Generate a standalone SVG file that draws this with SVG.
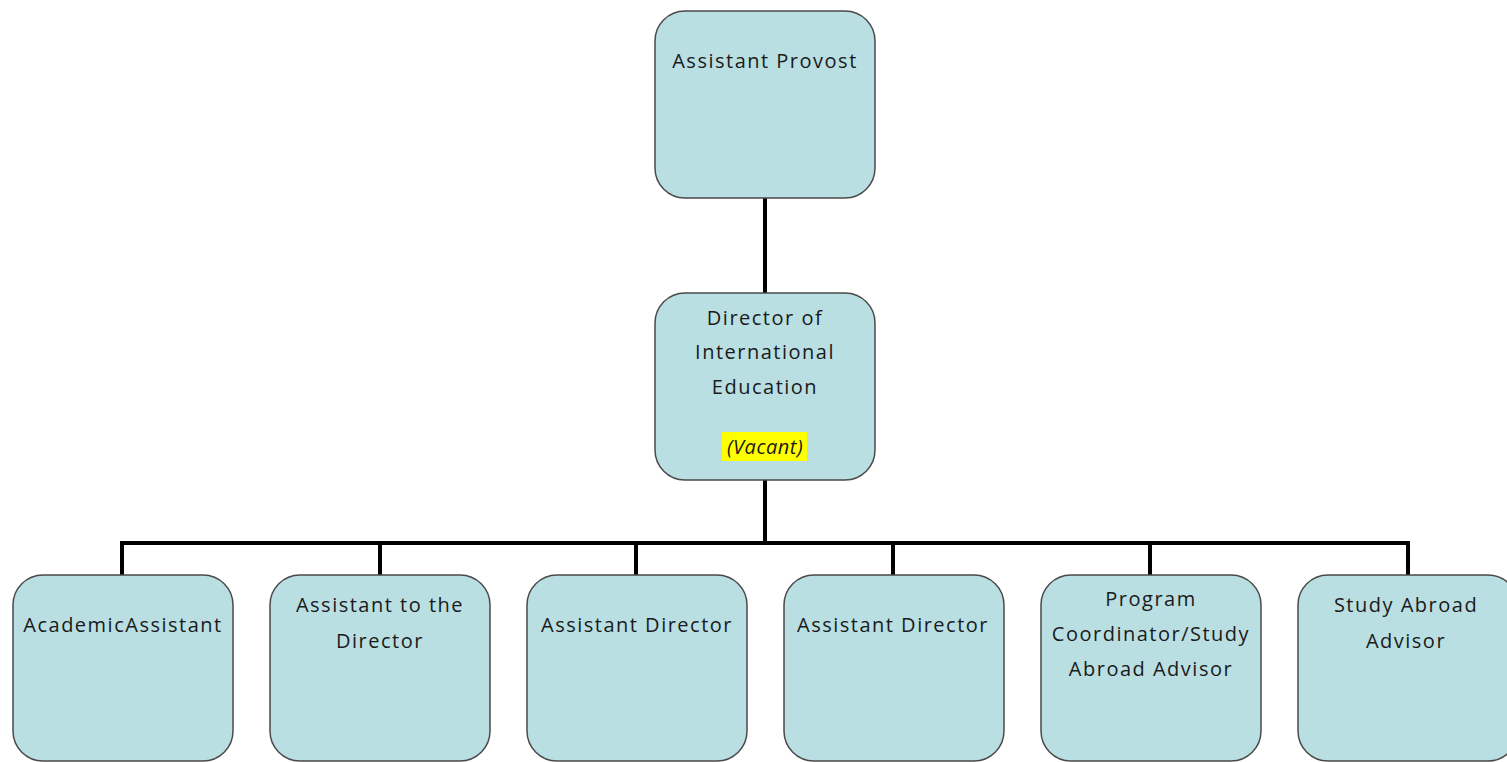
<svg xmlns="http://www.w3.org/2000/svg" width="1507" height="762" viewBox="0 0 1507 762">
<style>
.box{fill:#b9dfe3;stroke:#4a4a4a;stroke-width:1.5}
.t{font-family:"Open Sans",sans-serif;font-size:20px;letter-spacing:1.5px;fill:#1a1a1a;text-anchor:middle}
.i{font-style:italic;letter-spacing:0.5px}
.c{stroke:#000;stroke-width:4;fill:none}
</style>
<rect width="1507" height="762" fill="#fff"/>
<g id="connectors">
<line class="c" x1="765" y1="198" x2="765" y2="293"/>
<line class="c" x1="765" y1="480" x2="765" y2="545"/>
<polyline class="c" points="122,575 122,543 1408,543 1408,575"/>
<line class="c" x1="380" y1="543" x2="380" y2="575"/>
<line class="c" x1="636" y1="543" x2="636" y2="575"/>
<line class="c" x1="893" y1="543" x2="893" y2="575"/>
<line class="c" x1="1150" y1="543" x2="1150" y2="575"/>
</g>
<g id="provost">
<rect class="box" x="655" y="11" width="220" height="187" rx="30"/>
<text class="t" x="765" y="68">Assistant Provost</text>
</g>
<g id="director">
<rect class="box" x="655" y="293" width="220" height="187" rx="30"/>
<text class="t" x="765" y="325">Director of</text>
<text class="t" x="765" y="359">International</text>
<text class="t" x="765" y="394">Education</text>
<rect x="722" y="432" width="85" height="29" fill="#ffff00"/>
<text class="t i" x="765" y="454">(Vacant)</text>
</g>
<g id="academic-assistant">
<rect class="box" x="13" y="575" width="220" height="186" rx="30"/>
<text class="t" x="123" y="632">AcademicAssistant</text>
</g>
<g id="assistant-to-director">
<rect class="box" x="270" y="575" width="220" height="186" rx="30"/>
<text class="t" x="380" y="612">Assistant to the</text>
<text class="t" x="380" y="648">Director</text>
</g>
<g id="assistant-director-1">
<rect class="box" x="527" y="575" width="220" height="186" rx="30"/>
<text class="t" x="637" y="632">Assistant Director</text>
</g>
<g id="assistant-director-2">
<rect class="box" x="784" y="575" width="220" height="186" rx="30"/>
<text class="t" x="893" y="632">Assistant Director</text>
</g>
<g id="program-coordinator">
<rect class="box" x="1041" y="575" width="220" height="186" rx="30"/>
<text class="t" x="1151" y="606">Program</text>
<text class="t" x="1151" y="641">Coordinator/Study</text>
<text class="t" x="1151" y="676">Abroad Advisor</text>
</g>
<g id="study-abroad-advisor">
<rect class="box" x="1298" y="575" width="220" height="186" rx="30"/>
<text class="t" x="1406" y="612">Study Abroad</text>
<text class="t" x="1406" y="648">Advisor</text>
</g>
</svg>
